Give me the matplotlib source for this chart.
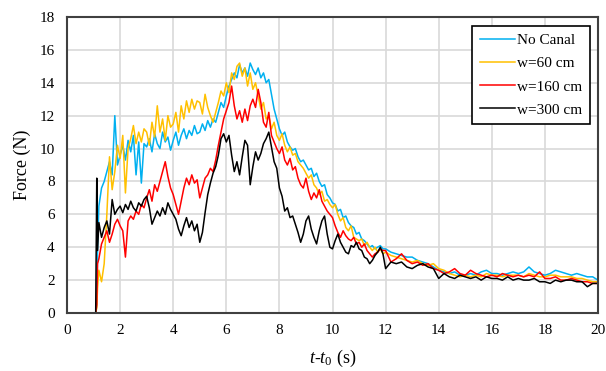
import numpy as np
import matplotlib
matplotlib.use("Agg")
import matplotlib.pyplot as plt

plt.rcParams['font.family'] = 'Liberation Serif'
plt.rcParams['mathtext.fontset'] = 'custom'
plt.rcParams['mathtext.rm'] = 'Liberation Serif'
plt.rcParams['mathtext.it'] = 'Liberation Serif:italic'

# time base (s): flat start, then 0.1 s samples to 12 s, 0.2 s samples to 20 s
t_head = [0.0, 1.08, 1.12, 1.15]
t = np.concatenate([t_head, np.arange(1.2, 11.95, 0.1), np.arange(12.0, 20.01, 0.2)])

no_canal = [0, 0, 0.5, 4.0,
    6.5, 7.6, 8.0, 8.6, 9.2, 8.4, 12.0, 9.0,
    9.6, 10.2, 9.3, 10.5, 9.8, 10.8, 8.4, 10.4, 7.9, 10.3,
    10.1, 10.6, 9.8, 10.9, 10.3, 10.0, 11.0, 10.4, 10.7, 9.9,
    10.5, 11.0, 10.2, 10.8, 11.2, 10.6, 11.1, 10.8, 11.4, 10.9,
    11.0, 11.5, 11.1, 11.7, 11.3, 11.8, 11.6, 12.2, 12.8, 12.5,
    13.2, 13.8, 14.2, 14.6, 14.3, 15.1, 14.6, 14.9, 14.4, 15.2,
    14.8, 14.5, 14.9, 14.3, 14.6, 14.0, 14.2, 13.3, 12.4, 11.8,
    11.2, 10.8, 11.0, 10.4, 10.1, 9.9, 10.0, 9.5, 9.2, 9.3,
    9.0, 8.7, 8.8, 8.3, 8.5, 8.0, 7.7, 7.8, 7.2, 7.0,
    6.7, 6.6, 6.2, 6.3, 5.8, 5.9, 5.5, 5.3, 5.2, 4.8,
    4.9, 4.5, 4.4, 4.2, 4.0, 4.1, 3.9, 4.0, 4.1, 3.9,
    3.9, 3.7, 3.6, 3.5, 3.4, 3.4, 3.2, 3.1, 3.0, 2.8,
    2.6, 2.5, 2.4, 2.5, 2.3, 2.3, 2.4, 2.3, 2.5, 2.6,
    2.4, 2.4, 2.3, 2.4, 2.5, 2.4, 2.5, 2.8, 2.5, 2.4,
    2.3, 2.4, 2.6, 2.5, 2.4, 2.3, 2.4, 2.3, 2.2, 2.2, 2.0]

w60 = [0, 0, 0.3, 1.5,
    2.6, 1.9, 3.0, 6.0, 9.5, 7.5, 8.6, 10.2,
    9.4, 10.8, 7.3, 10.0, 10.6, 11.4, 10.3, 11.0, 10.4, 11.2,
    11.0, 10.2, 11.6, 10.7, 12.6, 11.0, 11.8, 10.5, 12.0, 11.3,
    11.5, 12.2, 11.0, 12.6, 11.8, 12.9, 12.2, 13.0, 12.4, 12.9,
    12.8, 12.1, 13.3, 12.5, 12.0, 11.6, 12.2, 12.8, 13.5, 13.2,
    14.0, 13.4, 14.6, 14.2, 15.0, 15.2, 14.4, 14.9, 13.8, 14.6,
    13.6, 14.0, 13.2, 12.4, 12.8, 11.8, 12.0, 11.2, 11.6, 10.8,
    10.5, 10.9, 10.2, 9.8, 10.1, 9.6, 9.7, 9.2, 9.0, 8.8,
    8.5, 8.2, 8.4, 7.8, 7.6, 7.2, 7.4, 6.8, 6.9, 6.6,
    6.4, 6.6, 6.0, 5.6, 5.8, 5.2, 5.0, 5.3, 4.6, 4.5,
    4.4, 4.5, 4.1, 4.3, 4.0, 3.8, 4.0, 3.7, 3.9, 3.6,
    3.7, 3.5, 3.4, 3.3, 3.2, 3.1, 3.2, 3.0, 2.9, 3.0,
    2.7, 2.6, 2.4, 2.3, 2.2, 2.3, 2.2, 2.3, 2.2, 2.4,
    2.3, 2.3, 2.2, 2.3, 2.3, 2.3, 2.2, 2.4, 2.3, 2.2,
    2.2, 2.3, 2.3, 2.2, 2.2, 2.2, 2.1, 2.1, 2.0, 1.9, 1.9]

w160 = [0, 0, 0.5, 3.0,
    3.3, 4.2, 4.6, 5.0, 4.3, 4.8, 5.4, 5.7,
    5.3, 5.0, 3.4, 5.6, 5.9, 5.7, 6.2, 6.0, 6.6, 6.4,
    7.0, 7.5, 6.8, 7.8, 7.4, 8.0, 8.6, 9.2, 8.3, 7.6,
    7.2, 6.6, 6.0, 6.8, 7.6, 8.2, 7.8, 8.4, 7.9, 8.1,
    7.0, 7.6, 8.2, 8.4, 8.8, 8.6, 9.3, 10.2, 11.0, 11.8,
    12.3, 12.8, 13.8, 12.6, 11.8, 12.3, 11.6, 12.4, 11.7, 12.6,
    13.0, 12.5, 13.6, 12.8, 11.6, 11.3, 12.2, 10.8, 10.4, 10.0,
    9.7, 10.1, 9.3, 9.0, 9.4, 8.7, 8.9, 8.2, 7.8, 7.6,
    8.2, 7.4, 6.9, 7.3, 7.0, 7.5, 6.8, 6.5, 6.2, 6.0,
    5.8, 5.3, 4.9, 4.6, 5.0, 4.7, 4.5, 4.4, 4.6, 4.2,
    4.3, 4.0, 4.2, 3.8, 3.6, 3.4, 3.6, 3.7, 3.9, 3.8,
    3.8, 3.1, 3.3, 3.6, 3.2, 3.0, 3.1, 2.9, 3.0, 2.7,
    2.6, 2.4, 2.5, 2.7, 2.4, 2.3, 2.6, 2.4, 2.3, 2.2,
    2.3, 2.2, 2.4, 2.3, 2.2, 2.3, 2.2, 2.3, 2.2, 2.5,
    2.1, 2.1, 2.2, 2.0, 2.0, 2.1, 2.0, 1.9, 1.9, 1.8, 1.8]

w300 = [0, 0, 8.2, 3.8,
    5.5, 4.6, 5.2, 5.6, 4.8, 6.9, 6.0, 6.3,
    6.5, 6.1, 6.6, 6.3, 6.8, 6.4, 6.2, 6.7, 6.5, 6.9,
    7.1, 6.4, 5.4, 5.8, 6.2, 5.9, 6.4, 6.0, 6.7, 6.3,
    6.0, 5.7, 5.1, 4.7, 5.3, 5.8, 5.2, 5.6, 5.0, 5.4,
    4.3, 4.9, 6.1, 7.2, 7.9, 8.5, 8.9, 9.6, 10.6, 10.9,
    10.4, 10.8, 9.6, 8.6, 9.2, 8.4, 9.5, 10.5, 10.2, 7.8,
    8.9, 9.8, 9.3, 9.7, 10.3, 10.6, 11.0, 10.1, 9.2, 8.8,
    7.6, 7.1, 6.2, 6.4, 5.8, 5.9, 5.4, 4.9, 4.3, 4.8,
    5.6, 5.9, 5.1, 4.6, 4.2, 5.0, 5.6, 5.9, 4.8, 4.0,
    3.9, 4.4, 4.8, 4.3, 4.0, 3.7, 3.6, 4.1, 4.0, 4.3,
    3.9, 3.8, 3.4, 3.3, 3.0, 3.2, 3.5, 3.7, 4.0, 3.6,
    2.7, 3.1, 3.0, 3.1, 2.8, 2.7, 2.9, 3.0, 2.8, 2.7,
    2.1, 2.4, 2.2, 2.1, 2.3, 2.2, 2.1, 2.2, 2.0, 2.2,
    2.1, 2.1, 2.0, 2.2, 2.0, 2.1, 2.0, 2.0, 2.1, 1.9,
    1.9, 1.8, 2.0, 1.9, 2.0, 2.0, 1.9, 1.9, 1.6, 1.8, 1.8]

labels = ['No Canal', 'w=60 cm', 'w=160 cm', 'w=300 cm']
colors = ['#00B0F0', '#FFC000', '#FF0000', '#000000']

fig = plt.figure(figsize=(6.06, 3.71), dpi=100)
ax = fig.add_axes([0.1106, 0.1563, 0.8762, 0.7979])

for y, lab, c in zip([no_canal, w60, w160, w300], labels, colors):
    ax.plot(t, y, color=c, lw=1.1, label=lab)

ax.set_xlim(0, 20)
ax.set_ylim(0, 18)
ax.set_xticks(np.arange(0, 21, 2))
ax.set_yticks(np.arange(0, 19, 2))
ax.grid(True, color='#D9D9D9', lw=1.2)
ax.set_axisbelow(True)
ax.tick_params(axis='x', length=0, labelsize=11, pad=8)
ax.tick_params(axis='y', length=0, labelsize=11, pad=9)
for s in ax.spines.values():
    s.set_color('#404040')
    s.set_linewidth(1.5)

ax.set_xlabel(r'$t$-$t_{\mathit{0}}$ (s)', fontsize=13, labelpad=8)
ax.set_ylabel('Force (N)', fontsize=13, labelpad=6)

leg = ax.legend(loc='upper right', bbox_to_anchor=(0.985, 0.97), fontsize=11,
                fancybox=False, framealpha=1, edgecolor='black',
                handlelength=2.3, handletextpad=0.15, borderpad=0.5,
                labelspacing=0.62, borderaxespad=0)
leg.get_frame().set_linewidth(1.2)

fig.savefig('out.png', dpi=100)
